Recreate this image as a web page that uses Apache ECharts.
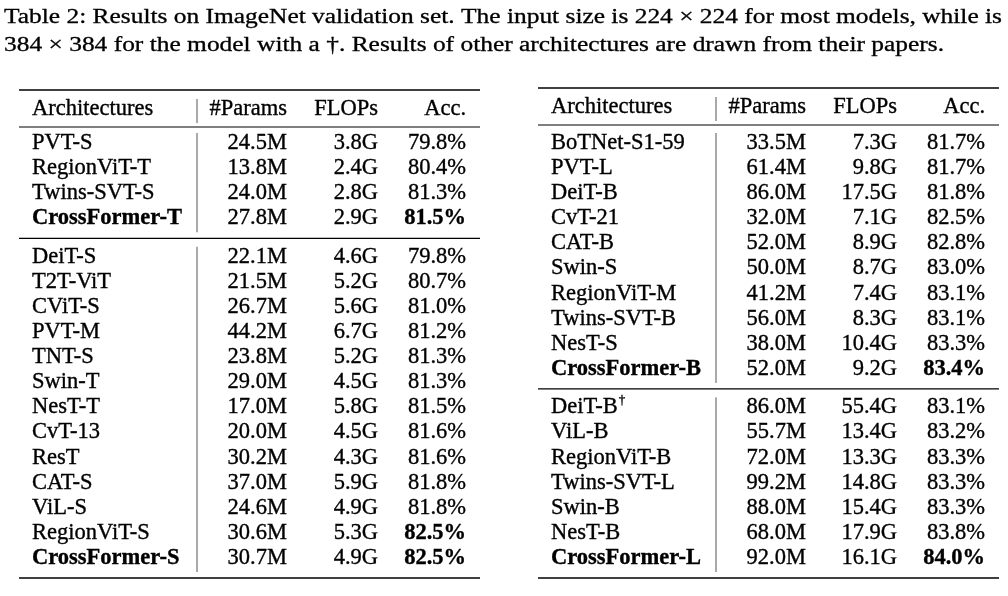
<!DOCTYPE html>
<html><head><meta charset="utf-8">
<script src="https://cdn.jsdelivr.net/npm/echarts@6/dist/echarts.min.js"></script>
<style>html,body{margin:0;padding:0;background:#fff}#c{width:1008px;height:596px}</style>
</head><body><div id="c"></div>
<script>
// ---------------- data ----------------
const titleLines = [
  'Table 2: Results on ImageNet validation set. The input size is 224 \u00d7 224 for most models, while is',
  '384 \u00d7 384 for the model with a \u2020. Results of other architectures are drawn from their papers.'
];
const headers = ['Architectures', '#Params', 'FLOPs', 'Acc.'];

const leftNames  = ['PVT-S','RegionViT-T','Twins-SVT-S','CrossFormer-T',
  'DeiT-S','T2T-ViT','CViT-S','PVT-M','TNT-S','Swin-T','NesT-T','CvT-13','ResT','CAT-S','ViL-S','RegionViT-S','CrossFormer-S'];
const leftParams = ['24.5M','13.8M','24.0M','27.8M',
  '22.1M','21.5M','26.7M','44.2M','23.8M','29.0M','17.0M','20.0M','30.2M','37.0M','24.6M','30.6M','30.7M'];
const leftFlops  = ['3.8G','2.4G','2.8G','2.9G',
  '4.6G','5.2G','5.6G','6.7G','5.2G','4.5G','5.8G','4.5G','4.3G','5.9G','4.9G','5.3G','4.9G'];
const leftAcc    = ['79.8%','80.4%','81.3%','81.5%',
  '79.8%','80.7%','81.0%','81.2%','81.3%','81.3%','81.5%','81.6%','81.6%','81.8%','81.8%','82.5%','82.5%'];
const leftBlocks   = [4, 13];
const leftBoldName = ['CrossFormer-T','CrossFormer-S'];
const leftBoldAcc  = ['CrossFormer-T','RegionViT-S','CrossFormer-S'];

const rightNames  = ['BoTNet-S1-59','PVT-L','DeiT-B','CvT-21','CAT-B','Swin-S','RegionViT-M','Twins-SVT-B','NesT-S','CrossFormer-B',
  'DeiT-B\u2020','ViL-B','RegionViT-B','Twins-SVT-L','Swin-B','NesT-B','CrossFormer-L'];
const rightParams = ['33.5M','61.4M','86.0M','32.0M','52.0M','50.0M','41.2M','56.0M','38.0M','52.0M',
  '86.0M','55.7M','72.0M','99.2M','88.0M','68.0M','92.0M'];
const rightFlops  = ['7.3G','9.8G','17.5G','7.1G','8.9G','8.7G','7.4G','8.3G','10.4G','9.2G',
  '55.4G','13.4G','13.3G','14.8G','15.4G','17.9G','16.1G'];
const rightAcc    = ['81.7%','81.7%','81.8%','82.5%','82.8%','83.0%','83.1%','83.1%','83.3%','83.4%',
  '83.1%','83.2%','83.3%','83.3%','83.3%','83.8%','84.0%'];
const rightBlocks   = [10, 7];
const rightBoldName = ['CrossFormer-B','CrossFormer-L'];
const rightBoldAcc  = ['CrossFormer-B','CrossFormer-L'];

// ---------------- layout / style ----------------
const FONT = 'Liberation Serif';
const CELL_SIZE = 22.5;
const TABLE_W = 461;
const COLS = { name: 13, vline: 178, params: 268, flops: 359, acc: 447 };
const GRID_TOP = 80, GRID_H = 500;
const PITCH = 25.1, RULE_BEFORE = 20, RULE_AFTER = 18.5, FIRST_ROW = 63;

const mctx = document.createElement('canvas').getContext('2d');
function measure(t, size, bold) {
  mctx.font = (bold ? 'bold ' : '') + size + 'px "' + FONT + '"';
  return mctx.measureText(t).width;
}

function buildTable(names, params, flops, acc, blocks, boldName, boldAcc, headOff) {
  const cells = [], rules = [], vsegs = [];
  const topRule = 10 + headOff, headY = 29 + headOff, midRule = 47 + headOff;
  rules.push({ y: topRule, w: 1.7 });
  cells.push({ y: headY, t: headers, bn: false, ba: false });
  rules.push({ y: midRule, w: 1.2 });
  vsegs.push([headY - 10, headY + 14]);
  let y = FIRST_ROW, k = 0;
  blocks.forEach((n, b) => {
    const start = y;
    for (let i = 0; i < n; i++, k++) {
      cells.push({ y: y, t: [names[k], params[k], flops[k], acc[k]],
        bn: boldName.includes(names[k]), ba: boldAcc.includes(names[k]) });
      if (i < n - 1) y += PITCH;
    }
    vsegs.push([start - 10, y + 14]);
    const r = y + RULE_BEFORE;
    rules.push({ y: r, w: b === blocks.length - 1 ? 1.7 : 1.2 });
    y = r + RULE_AFTER;
  });
  return { cells, rules, vsegs };
}

const tables = [
  buildTable(leftNames, leftParams, leftFlops, leftAcc, leftBlocks, leftBoldName, leftBoldAcc, 0),
  buildTable(rightNames, rightParams, rightFlops, rightAcc, rightBlocks, rightBoldName, rightBoldAcc, -2)
];

function txt(x, y, s, align, bold, size) {
  return { type: 'text', x: x, y: y, silent: true,
    style: { text: s, fontFamily: FONT, fontSize: size || CELL_SIZE, fontWeight: bold ? 'bold' : 'normal',
      fill: '#000', stroke: '#000', lineWidth: 0.35, align: align, verticalAlign: 'middle' } };
}

const series = [];
tables.forEach((tb, g) => {
  series.push({
    type: 'custom', xAxisIndex: g, yAxisIndex: g, silent: true, clip: false,
    data: tb.rules.map(r => [0, r.y]),
    renderItem: (p, api) => {
      const r = tb.rules[p.dataIndex];
      const a = api.coord([0, api.value(1)]), b = api.coord([TABLE_W, api.value(1)]);
      return { type: 'line', shape: { x1: a[0], y1: a[1], x2: b[0], y2: b[1] },
        style: { stroke: '#000', lineWidth: r.w } };
    }
  });
  series.push({
    type: 'custom', xAxisIndex: g, yAxisIndex: g, silent: true, clip: false,
    data: tb.vsegs.map(s => [COLS.vline, s[0], s[1]]),
    renderItem: (p, api) => {
      const a = api.coord([api.value(0), api.value(1)]), b = api.coord([api.value(0), api.value(2)]);
      return { type: 'line', shape: { x1: a[0], y1: a[1], x2: b[0], y2: b[1] },
        style: { stroke: '#555', lineWidth: 1 } };
    }
  });
  series.push({
    type: 'custom', xAxisIndex: g, yAxisIndex: g, silent: true, clip: false,
    data: tb.cells.map(c => [0, c.y]),
    renderItem: (p, api) => {
      const c = tb.cells[p.dataIndex];
      const yv = api.value(1);
      const pn = api.coord([COLS.name, yv]);
      const children = [];
      let name = c.t[0];
      const dag = name.indexOf('\u2020') >= 0;
      if (dag) name = name.replace('\u2020', '');
      children.push(txt(pn[0], pn[1], name, 'left', c.bn));
      if (dag) {
        const w = measure(name, CELL_SIZE, c.bn);
        children.push(txt(pn[0] + w + 1, pn[1] - 7, '\u2020', 'left', false, 13));
      }
      children.push(txt(api.coord([COLS.params, yv])[0], pn[1], c.t[1], 'right', false));
      children.push(txt(api.coord([COLS.flops, yv])[0], pn[1], c.t[2], 'right', false));
      children.push(txt(api.coord([COLS.acc, yv])[0], pn[1], c.t[3], 'right', c.ba));
      return { type: 'group', children: children };
    }
  });
});

// title lines (graphic text, stretched to the measured line widths)
const TITLE_SIZE = 20.5;
const titleTargets = [998, 940];
const titleY = [18, 46];
const graphic = titleLines.map((s, i) => {
  const w = measure(s, TITLE_SIZE, false);
  return { type: 'text', x: 4, y: titleY[i], scaleX: titleTargets[i] / w, originX: 0, silent: true,
    style: { text: s, fontFamily: FONT, fontSize: TITLE_SIZE, fill: '#000', stroke: '#000', lineWidth: 0.3,
      align: 'left', verticalAlign: 'middle' } };
});

const chart = echarts.init(document.getElementById('c'), null, { renderer: 'canvas' });
chart.setOption({
  animation: false,
  backgroundColor: '#fff',
  grid: [
    { left: 19, top: GRID_TOP, width: TABLE_W, height: GRID_H },
    { left: 538, top: GRID_TOP, width: TABLE_W, height: GRID_H }
  ],
  xAxis: [0, 1].map(g => ({ type: 'value', gridIndex: g, min: 0, max: TABLE_W, show: false })),
  yAxis: [0, 1].map(g => ({ type: 'value', gridIndex: g, min: 0, max: GRID_H, inverse: true, show: false })),
  graphic: graphic,
  series: series
});
</script>
</body></html>
